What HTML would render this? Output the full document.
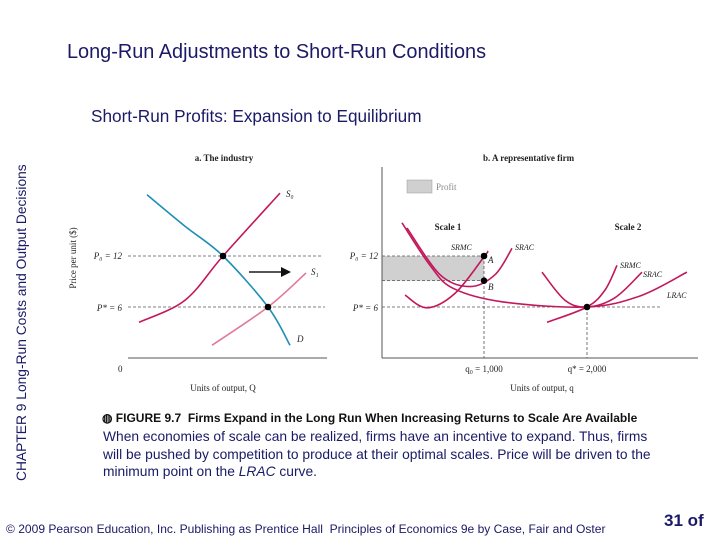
<!DOCTYPE html>
<html><head><meta charset="utf-8"><style>
body{margin:0;background:#fff;}
#root{position:relative;width:720px;height:540px;overflow:hidden;background:#fff;font-family:"Liberation Sans",sans-serif;}
.t{position:absolute;white-space:nowrap;}
</style></head><body>
<div id="root">
<div class="t" style="left:67px;top:41px;font-size:19.9px;color:#1a1a66;">Long-Run Adjustments to Short-Run Conditions</div>
<div class="t" style="left:91px;top:106px;font-size:17.2px;color:#1a1a66;">Short-Run Profits: Expansion to Equilibrium</div>
<div class="t" style="left:14px;top:481px;font-size:13.8px;color:#1a1a66;transform-origin:0 0;transform:rotate(-90deg);">CHAPTER 9 Long-Run Costs and Output Decisions</div>
<svg id="chart" width="720" height="540" style="position:absolute;left:0;top:0;font-family:'Liberation Serif',serif;"></svg>
<div class="t" style="left:102px;top:411px;font-size:12px;font-weight:bold;color:#111;">◍ FIGURE 9.7&nbsp; Firms Expand in the Long Run When Increasing Returns to Scale Are Available</div>
<div class="t" style="left:103px;top:428px;font-size:13.8px;line-height:17.5px;color:#1a1a66;white-space:normal;width:562px;">When economies of scale can be realized, firms have an incentive to expand. Thus, firms will be pushed by competition to produce at their optimal scales. Price will be driven to the minimum point on the <i>LRAC</i> curve.</div>
<div class="t" style="left:6px;top:522px;font-size:12.05px;color:#1a1a66;">© 2009 Pearson Education, Inc. Publishing as Prentice Hall&nbsp; Principles of Economics 9e by Case, Fair and Oster</div>
<div class="t" style="left:664px;top:511px;font-size:17px;font-weight:bold;color:#1a1a66;">31 of</div>
</div>
<script>
// Industry panel data (Q in arbitrary units 0-10, price $)
const demandPts=[[0.95,19.2],[2.85,15.5],[4.75,12],[7,6],[8.1,1.5]];
const supply0Pts=[[0.55,4.2],[2.85,6.8],[4.75,12],[7.6,19.4]];
const supply1Pts=[[4.2,1.5],[7,6],[8.9,10]];
const industryEq=[[4.75,12],[7,6]];
// Firm panel data (q units, price $)
const lracPts=[[204,15.9],[476,10.9],[700,8.2],[1184,6.6],[2000,6],[2515,7.3],[2970,10.1]];
const srac1Pts=[[252,15.3],[573,9.8],[864,8.4],[1107,9.8],[1272,12.9]];
const srmc1Pts=[[233,7.4],[447,5.9],[718,7.6],[1000,11.9],[1039,12.6]];
const srac2Pts=[[1563,10.1],[1786,6.8],[2000,6],[2272,7.1],[2534,10.1]];
const srmc2Pts=[[1612,4.2],[2000,6],[2175,8],[2291,10.9]];
const priceLevels=[12,6];
const q0=1000, qStar=2000, pB=9.1;

const svg=document.getElementById('chart');
const NS='http://www.w3.org/2000/svg';
const yP=p=>358-p*8.5;
const xQ=q=>128+q*20;
const xq=q=>381+q*0.103;
function el(tag,attrs,parent){const e=document.createElementNS(NS,tag);for(const k in attrs)e.setAttribute(k,attrs[k]);(parent||svg).appendChild(e);return e;}
function spline(pts){let d='M'+pts[0][0]+','+pts[0][1];for(let i=0;i<pts.length-1;i++){const p0=pts[i-1]||pts[i],p1=pts[i],p2=pts[i+1],p3=pts[i+2]||p2;d+=' C'+(p1[0]+(p2[0]-p0[0])/6)+','+(p1[1]+(p2[1]-p0[1])/6)+' '+(p2[0]-(p3[0]-p1[0])/6)+','+(p2[1]-(p3[1]-p1[1])/6)+' '+p2[0]+','+p2[1];}return d;}
function curve(pts,fx,color,name,w){const p=el('path',{d:spline(pts.map(a=>[fx(a[0]),yP(a[1])])),fill:'none',stroke:color,'stroke-width':w||1.6});

}
function txt(x,y,s,name,extra){const t=el('text',Object.assign({x:x,y:y,'font-size':9,fill:'#222'},extra||{}));t.textContent=s;

return t;}
function dot(x,y,name){const c=el('circle',{cx:x,cy:y,r:3.3,fill:'#000'});

}
const dash={stroke:'#555','stroke-width':0.8,'stroke-dasharray':'3,2'};

// Industry panel
el('line',{x1:128,y1:358,x2:327,y2:358,stroke:'#555','stroke-width':1});
el('line',Object.assign({x1:128,y1:yP(priceLevels[0]),x2:323,y2:yP(priceLevels[0])},dash));
el('line',Object.assign({x1:128,y1:yP(priceLevels[1]),x2:325,y2:yP(priceLevels[1])},dash));
curve(supply1Pts,xQ,'#e07a98','supply-s1');
curve(supply0Pts,xQ,'#c2185b','supply-s0');
curve(demandPts,xQ,'#1f8fb5','demand-curve');
industryEq.forEach((p,i)=>dot(xQ(p[0]),yP(p[1]),'industry-equilibrium-'+i));
el('line',{x1:249,y1:272,x2:282,y2:272,stroke:'#555','stroke-width':2});
el('path',{d:'M281,267 L291,272 L281,277 Z',fill:'#111'});
txt(224,161,'a. The industry','industry-title',{'font-weight':'bold','text-anchor':'middle'});
txt(286,197,'S₀','s0-label',{'font-style':'italic'});
txt(311,275,'S₁','s1-label',{'font-style':'italic'});
txt(297,342,'D','d-label',{'font-style':'italic'});
txt(122,259,'P₀ = 12','industry-p0-label',{'text-anchor':'end','font-style':'italic'});
txt(122,311,'P* = 6','industry-pstar-label',{'text-anchor':'end','font-style':'italic'});
txt(118,372,'0','origin-label');
txt(223,391,'Units of output, Q','industry-x-title',{'text-anchor':'middle'});
txt(0,0,'Price per unit ($)','y-axis-title',{'text-anchor':'middle',transform:'translate(76,258) rotate(-90)'});

// Firm panel
el('rect',{x:382,y:yP(priceLevels[0]),width:xq(q0)-382,height:yP(pB)-yP(priceLevels[0]),fill:'#d0d0d0'});
el('line',{x1:382,y1:167,x2:382,y2:358,stroke:'#555','stroke-width':1});
el('line',{x1:382,y1:358,x2:698,y2:358,stroke:'#555','stroke-width':1});
el('line',Object.assign({x1:382,y1:yP(priceLevels[0]),x2:xq(q0),y2:yP(priceLevels[0])},dash));
el('line',Object.assign({x1:382,y1:yP(pB),x2:xq(q0),y2:yP(pB)},dash));
el('line',Object.assign({x1:382,y1:yP(priceLevels[1]),x2:662,y2:yP(priceLevels[1])},dash));
el('line',Object.assign({x1:xq(q0),y1:yP(priceLevels[0]),x2:xq(q0),y2:358},dash));
el('line',Object.assign({x1:xq(qStar),y1:yP(priceLevels[1]),x2:xq(qStar),y2:358},dash));
curve(lracPts,xq,'#c2185b','lrac-curve');
curve(srac1Pts,xq,'#c2185b','srac-scale1');
curve(srmc1Pts,xq,'#c2185b','srmc-scale1');
curve(srac2Pts,xq,'#c2185b','srac-scale2');
curve(srmc2Pts,xq,'#c2185b','srmc-scale2');
dot(xq(q0),yP(priceLevels[0]),'point-a');
dot(xq(q0),yP(pB),'point-b');
dot(xq(qStar),yP(priceLevels[1]),'firm-equilibrium');
el('rect',{x:407,y:180,width:25,height:13,fill:'#d0d0d0',stroke:'#999','stroke-width':0.5});
txt(436,190,'Profit','legend-profit',{fill:'#888'});
txt(483,161,'b. A representative firm','firm-title',{'font-weight':'bold'});
txt(448,230,'Scale 1','scale1-label',{'font-weight':'bold','text-anchor':'middle'});
txt(628,230,'Scale 2','scale2-label',{'font-weight':'bold','text-anchor':'middle'});
txt(451,250,'SRMC','srmc1-label',{'font-style':'italic','font-size':8});
txt(515,250,'SRAC','srac1-label',{'font-style':'italic','font-size':8});
txt(620,268,'SRMC','srmc2-label',{'font-style':'italic','font-size':8});
txt(643,277,'SRAC','srac2-label',{'font-style':'italic','font-size':8});
txt(667,298,'LRAC','lrac-label',{'font-style':'italic','font-size':8});
txt(488,263,'A','a-label',{'font-style':'italic'});
txt(488,290,'B','b-label',{'font-style':'italic'});
txt(378,259,'P₀ = 12','firm-p0-label',{'text-anchor':'end','font-style':'italic'});
txt(378,311,'P* = 6','firm-pstar-label',{'text-anchor':'end','font-style':'italic'});
txt(484,372,'q₀ = 1,000','q0-label',{'text-anchor':'middle'});
txt(587,372,'q* = 2,000','qstar-label',{'text-anchor':'middle'});
txt(542,391,'Units of output, q','firm-x-title',{'text-anchor':'middle'});
</script>
</body></html>
